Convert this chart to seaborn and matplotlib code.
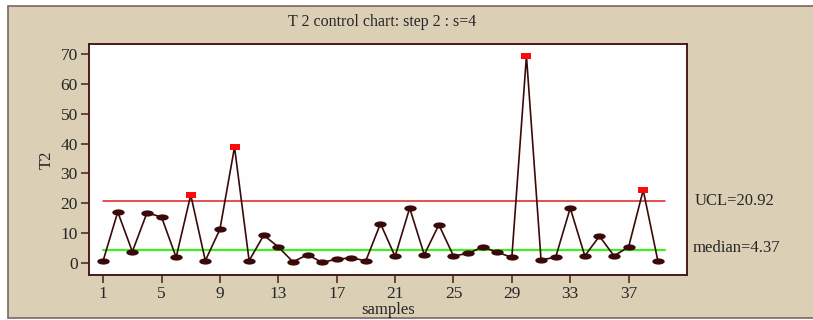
import matplotlib
matplotlib.use("Agg")
import matplotlib.pyplot as plt
import numpy as np
import pandas as pd
import seaborn as sns
from matplotlib.path import Path
from matplotlib.transforms import Affine2D
from matplotlib.patches import Rectangle

# T2 statistic per sample
samples = list(range(1, 40))
t2 = [0.8, 17.1, 3.8, 16.8, 15.4, 1.9, 22.8, 0.8, 11.3, 38.8,
      0.8, 9.3, 5.4, 0.4, 2.8, 0.2, 1.3, 1.7, 0.8, 13.2,
      2.2, 18.4, 2.8, 12.8, 2.4, 3.2, 5.4, 3.6, 1.9, 69.3,
      1.1, 1.9, 18.4, 2.4, 9.0, 2.4, 5.4, 24.4, 0.8]
ucl = 20.92
median = 4.37
xtick_values = [1, 5, 9, 13, 17, 21, 25, 29, 33, 37]
ytick_values = [0, 10, 20, 30, 40, 50, 60, 70]

df = pd.DataFrame({"samples": samples, "T2": t2})
df["out"] = df["T2"] > ucl

sns.set_style("white")
plt.rcParams["font.family"] = ["Liberation Serif", "DejaVu Serif"]

bg = "#dbd0b5"
dark = "#3a0a0a"

fig = plt.figure(figsize=(8.13, 3.2), dpi=100)
fig.patch.set_facecolor("white")
# beige panel with a thin border
fig.patches.append(Rectangle((8 / 813, 1 - 318 / 320), 1.0, 312 / 320,
                             transform=fig.transFigure, facecolor=bg,
                             edgecolor="#7d6464", linewidth=1.2, zorder=-10))

ax = fig.add_axes([89 / 813, 1 - 275 / 320, (687 - 89) / 813, (275 - 44) / 320])
ax.set_facecolor("#fefefe")

# flattened markers
ellipse = Path.unit_circle().transformed(Affine2D().scale(1.0, 0.5))
rect = Path([(-1, -0.66), (1, -0.66), (1, 0.66), (-1, 0.66), (-1, -0.66)],
            [Path.MOVETO, Path.LINETO, Path.LINETO, Path.LINETO, Path.CLOSEPOLY])

ax.plot([1, 39.5], [ucl, ucl], color="#e01e1e", lw=1.1, zorder=1)
ax.plot([1, 39.5], [median, median], color="#3ef01e", lw=1.6, zorder=1)

sns.lineplot(data=df, x="samples", y="T2", color=dark, lw=1.2, ax=ax, zorder=2)
sns.scatterplot(data=df[~df["out"]], x="samples", y="T2", color=dark,
                marker=ellipse, s=80, linewidth=0, ax=ax, zorder=3)
sns.scatterplot(data=df[df["out"]], x="samples", y="T2", color="#ff0a0a",
                marker=rect, s=52, linewidth=0, ax=ax, zorder=4)

ax.set_xlim(0.03, 41)
ax.set_ylim(-4, 73.3)
ax.set_xticks(xtick_values)
ax.set_yticks(ytick_values)
ax.tick_params(axis="both", direction="out", length=6, width=1.2,
               color="#5a2a2a", labelsize=12.5, pad=2, left=True, bottom=True)
for side in ["left", "bottom", "right", "top"]:
    ax.spines[side].set_visible(True)
    ax.spines[side].set_color("#4a1a1a")
    ax.spines[side].set_linewidth(1.4)

ax.set_xlabel("samples", fontsize=12, labelpad=0)
ax.set_ylabel("T2", fontsize=12, labelpad=4)
fig.text(0.47, 1 - 22 / 320, "T 2 control chart: step 2 : s=4",
         ha="center", va="center", fontsize=11.5)

ax.text(1.013, ucl, "UCL=20.92", transform=ax.get_yaxis_transform(),
        ha="left", va="center", fontsize=12, clip_on=False)
ax.text(1.01, 5.0, "median=4.37", transform=ax.get_yaxis_transform(),
        ha="left", va="center", fontsize=12, clip_on=False)

fig.savefig("out.png", dpi=100, facecolor=fig.get_facecolor())
